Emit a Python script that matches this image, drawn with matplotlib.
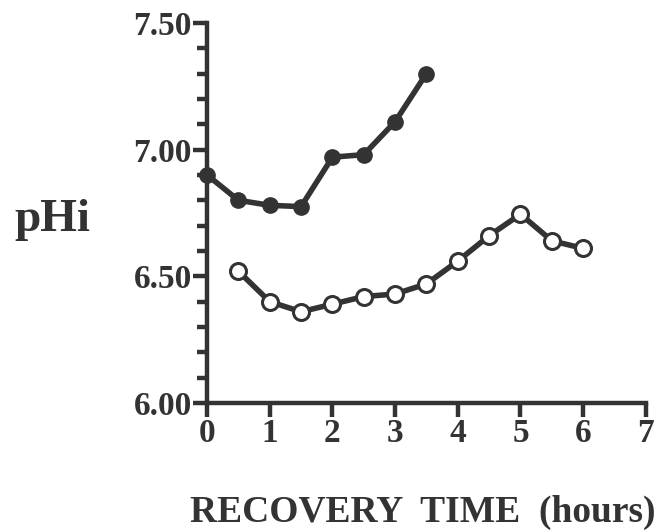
import numpy as np
import matplotlib.pyplot as plt
from matplotlib.ticker import MultipleLocator

# recovery time (hours) and intracellular pH
t_filled = [0, 0.5, 1, 1.5, 2, 2.5, 3, 3.5]
ph_filled = [6.90, 6.80, 6.78, 6.775, 6.97, 6.98, 7.11, 7.30]

t_open = [0.5, 1, 1.5, 2, 2.5, 3, 3.5, 4, 4.5, 5, 5.5, 6]
ph_open = [6.52, 6.40, 6.36, 6.39, 6.42, 6.43, 6.47, 6.56, 6.66, 6.745, 6.64, 6.61]

yticks = [6.0, 6.5, 7.0, 7.5]
xticks = [0, 1, 2, 3, 4, 5, 6, 7]

ink = "#333333"
plt.rcParams['font.family'] = ['Liberation Serif', 'DejaVu Serif']
plt.rcParams['font.weight'] = 'bold'

fig = plt.figure(figsize=(6.7, 5.32), dpi=100)
ax = fig.add_axes([0.309, 0.2425, 0.655, 0.7145])

ax.plot(t_filled, ph_filled, color=ink, lw=4, marker='o', ms=11,
        mfc=ink, mec=ink, clip_on=False, zorder=3)
ax.plot(t_open, ph_open, color=ink, lw=4, marker='o', ms=11.5,
        mfc='white', mec=ink, mew=2.2, clip_on=False, zorder=3)

ax.set_xlim(0, 7)
ax.set_ylim(6.0, 7.5)
ax.set_xticks(xticks)
ax.set_xticklabels([str(v) for v in xticks])
ax.set_yticks(yticks)
ax.set_yticklabels(["%.2f" % v for v in yticks])
ax.yaxis.set_minor_locator(MultipleLocator(0.1))

for s in ['top', 'right']:
    ax.spines[s].set_visible(False)
for s in ['left', 'bottom']:
    ax.spines[s].set_linewidth(3.2)
    ax.spines[s].set_color(ink)

ax.tick_params(axis='both', which='major', direction='out', length=10, width=3.2,
               color=ink, labelcolor=ink, labelsize=24, pad=1)
ax.tick_params(axis='y', which='minor', direction='out', length=7, width=3.2, color=ink)

fig.text(0.078, 0.586, "pHi", fontsize=34, fontweight='bold', color=ink,
         ha='center', va='center')
fig.text(0.631, 0.036, "RECOVERY  TIME  (hours)", fontsize=27, fontweight='bold',
         color=ink, ha='center', va='center')

fig.savefig("out.png", dpi=100)
